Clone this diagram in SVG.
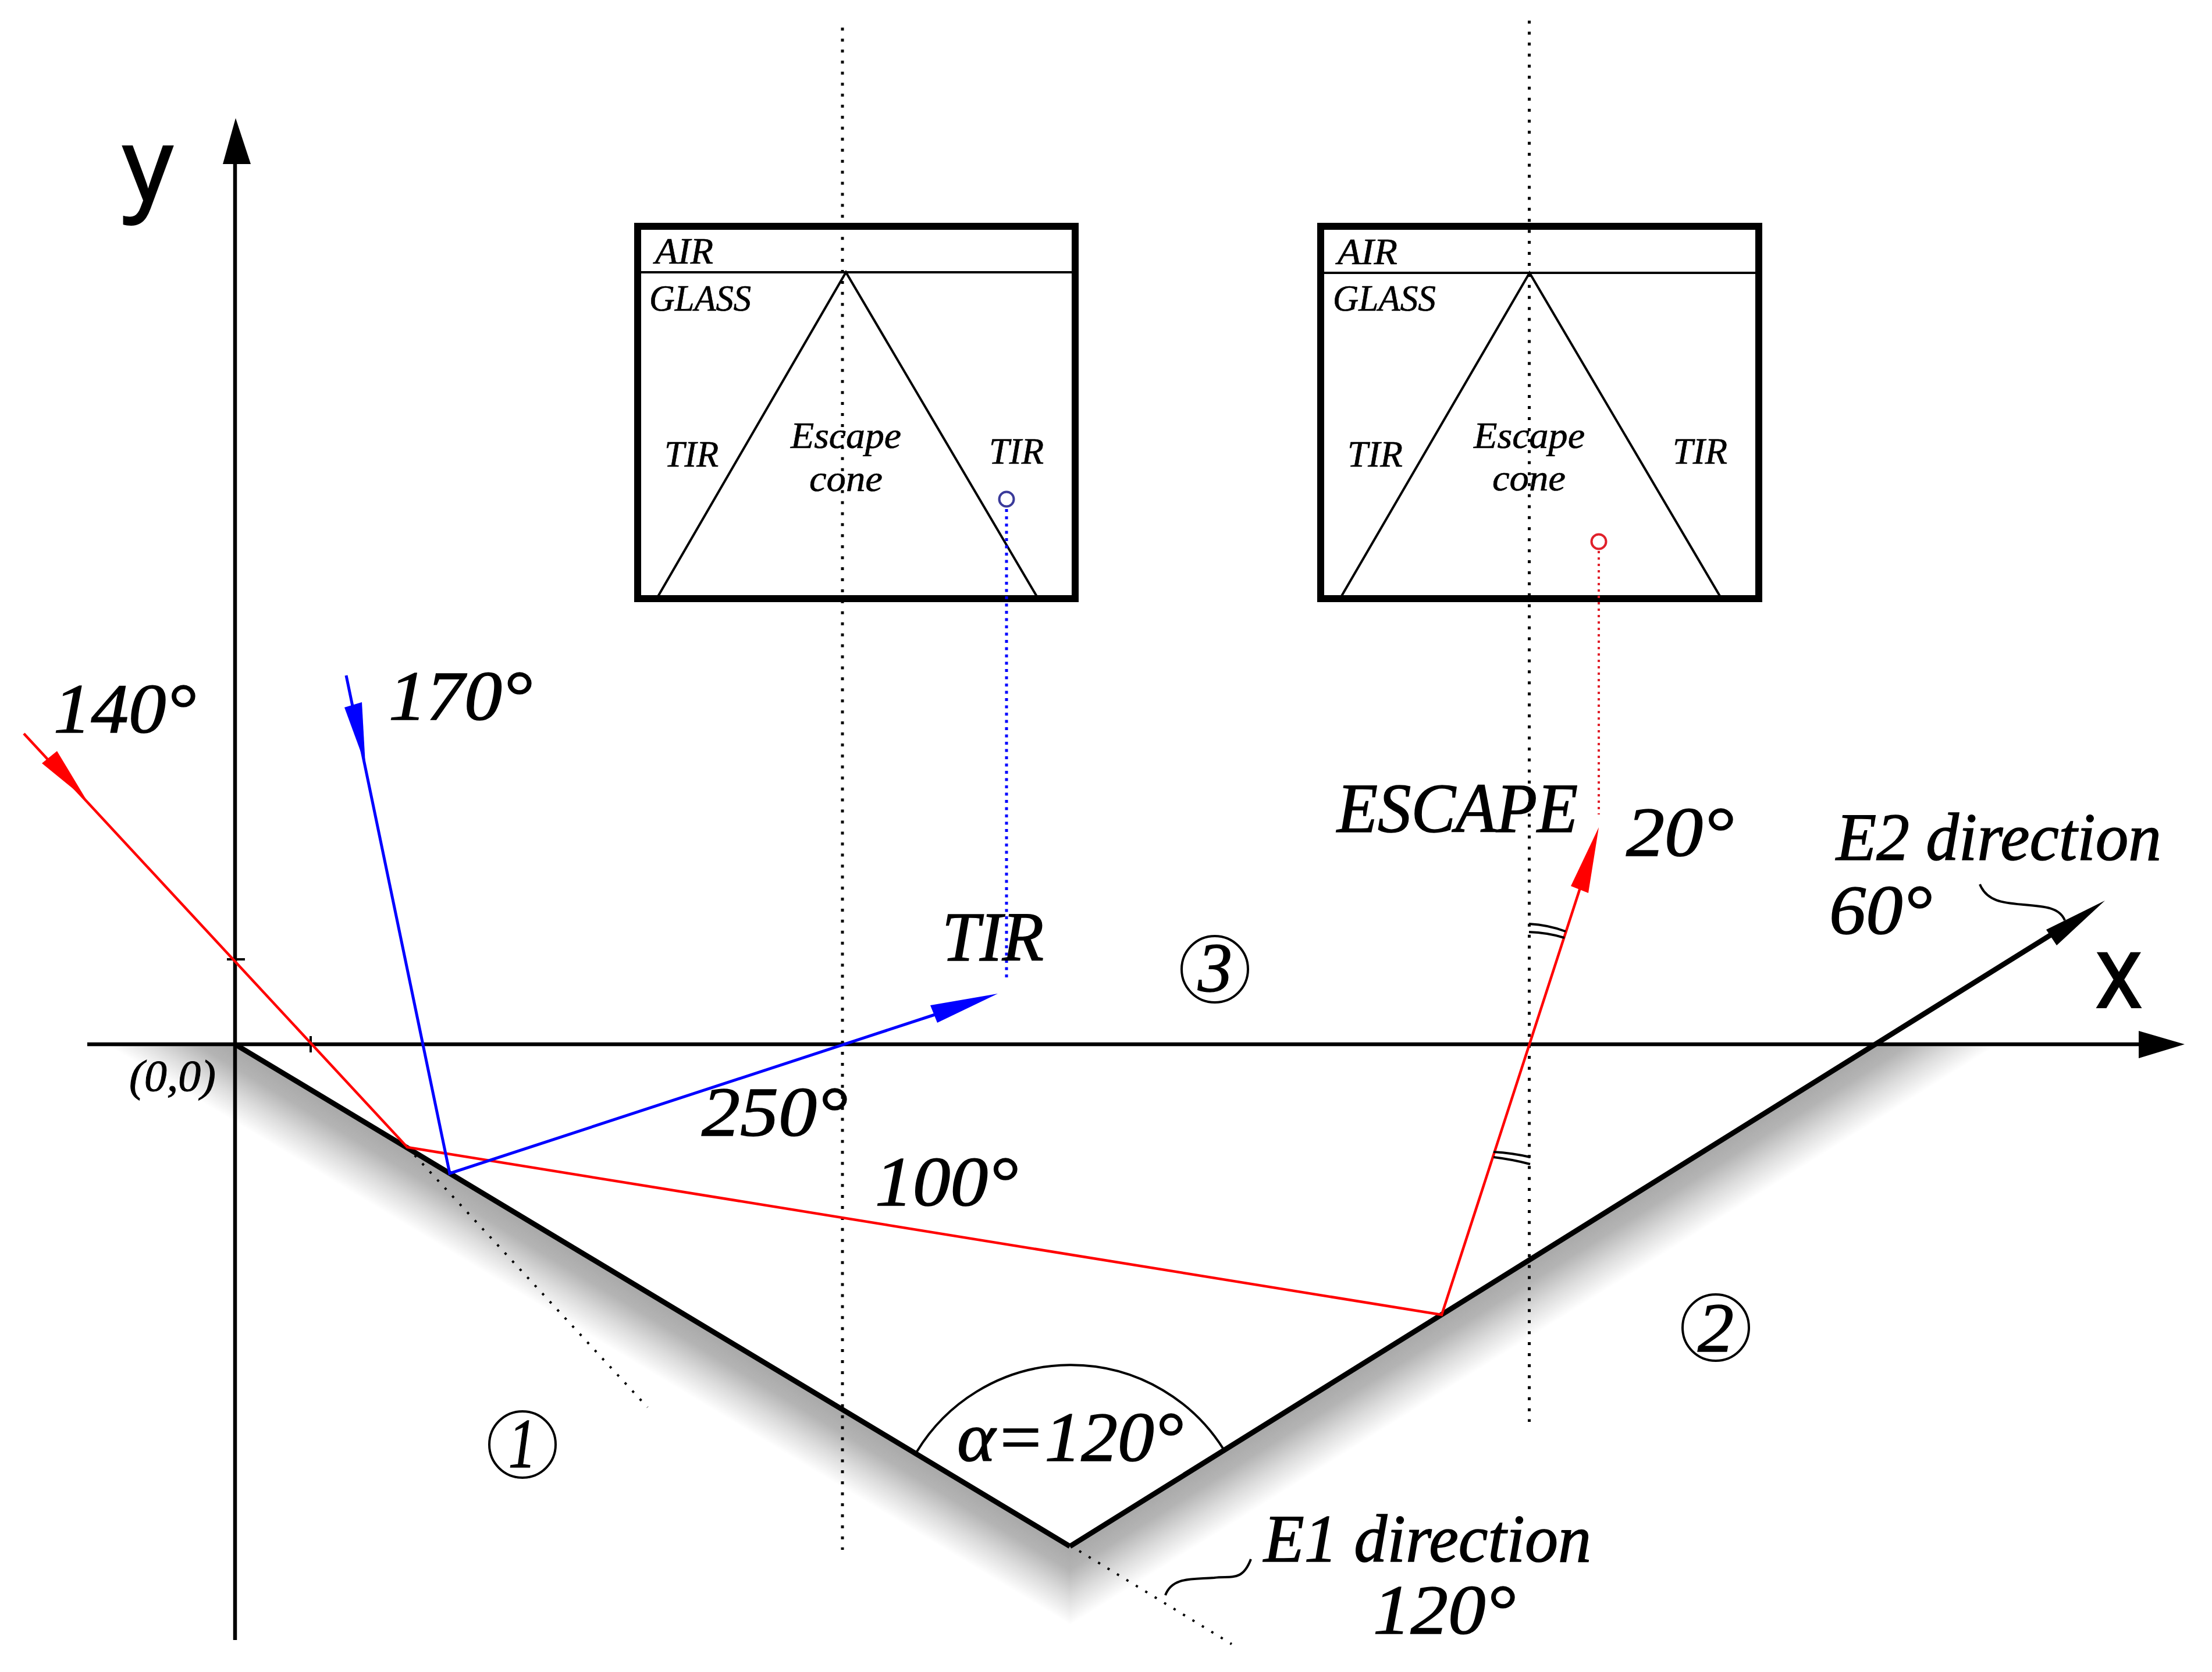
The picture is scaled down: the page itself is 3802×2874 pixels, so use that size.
<svg xmlns="http://www.w3.org/2000/svg" width="3802" height="2874" viewBox="0 0 3802 2874">
<style>
text{font-family:"Liberation Serif","Times New Roman",serif;font-style:italic;fill:#000;stroke:#000;stroke-width:1}
.big{font-size:120px;stroke-width:1.5}
.dir{font-size:116px;stroke-width:1.5}
.small{font-size:63px;stroke-width:.7}
.origin{font-size:76px}
.axis{font-family:"Open Sans","Noto Sans",sans-serif;font-style:normal;font-size:172px;stroke-width:4}
line,path,polyline,rect,circle,ellipse{fill:none}
.thin{stroke:#000;stroke-width:4}
.ax{stroke:#000;stroke-width:6.5}
.wall{stroke:#000;stroke-width:9}
.red{stroke:#f00;stroke-width:4.5}
.blue{stroke:#00f;stroke-width:5}
.dot{stroke:#000;stroke-width:5;stroke-dasharray:5 13.93}
.dotfine{stroke:#000;stroke-width:4;stroke-dasharray:4 15}
.frame{stroke:#000;stroke-width:12;fill:#fff}
.k{fill:#000}.r{fill:#f00}.b{fill:#00f}
</style>
<defs>
<linearGradient id="shL" gradientUnits="userSpaceOnUse" x1="404" y1="1795" x2="345" y2="1893"><stop offset="0" stop-color="#a8a8a8"/><stop offset=".3" stop-color="#b4b4b4"/><stop offset=".65" stop-color="#dcdcdc"/><stop offset="1" stop-color="#fff"/></linearGradient>
<linearGradient id="shR" gradientUnits="userSpaceOnUse" x1="1839" y1="2658" x2="1900" y2="2755.5"><stop offset="0" stop-color="#a8a8a8"/><stop offset=".3" stop-color="#b4b4b4"/><stop offset=".65" stop-color="#dcdcdc"/><stop offset="1" stop-color="#fff"/></linearGradient>
</defs>
<rect width="3802" height="2874" style="fill:#fff"/>
<g id="shadow">
<polygon points="404,1795 1839,2658 1839,2795 182,1795" fill="url(#shL)"/>
<polygon points="1839,2658 3222,1795 3439,1795 1839,2795" fill="url(#shR)"/>
</g>
<g id="inset-tir">
<rect class="frame" x="1096" y="389" width="752" height="640"/>
<line class="thin" x1="1096" y1="468" x2="1848" y2="468"/>
<polyline class="thin" points="1131,1025 1454,468 1782,1025"/>
<text class="small" x="1126" y="453" textLength="100" lengthAdjust="spacingAndGlyphs">AIR</text>
<text class="small" x="1116" y="534" textLength="175" lengthAdjust="spacingAndGlyphs">GLASS</text>
<text class="small" x="1142" y="802" textLength="93" lengthAdjust="spacingAndGlyphs">TIR</text>
<text class="small" x="1359" y="770" textLength="190" lengthAdjust="spacingAndGlyphs">Escape</text>
<text class="small" x="1391" y="844" textLength="126" lengthAdjust="spacingAndGlyphs">cone</text>
<text class="small" x="1700" y="797" textLength="94" lengthAdjust="spacingAndGlyphs">TIR</text>
<circle cx="1730" cy="858" r="12.5" style="stroke:#3a3a9a;stroke-width:4"/>
</g>
<g id="inset-escape">
<rect class="frame" x="2270" y="389" width="753" height="640"/>
<line class="thin" x1="2270" y1="469" x2="3023" y2="469"/>
<polyline class="thin" points="2305,1026 2629,469 2957,1026"/>
<text class="small" x="2299" y="454" textLength="103" lengthAdjust="spacingAndGlyphs">AIR</text>
<text class="small" x="2291" y="534" textLength="177" lengthAdjust="spacingAndGlyphs">GLASS</text>
<text class="small" x="2316" y="802" textLength="95" lengthAdjust="spacingAndGlyphs">TIR</text>
<text class="small" x="2533" y="770" textLength="191" lengthAdjust="spacingAndGlyphs">Escape</text>
<text class="small" x="2565" y="843" textLength="126" lengthAdjust="spacingAndGlyphs">cone</text>
<text class="small" x="2875" y="797" textLength="94" lengthAdjust="spacingAndGlyphs">TIR</text>
<circle cx="2748" cy="931" r="12.5" style="stroke:#e0202a;stroke-width:4"/>
</g>
<g id="connectors">
<line class="dot" x1="1448" y1="47.5" x2="1448" y2="2664"/>
<line class="dot" x1="2628.5" y1="35.5" x2="2628.5" y2="2444"/>
<line class="dotfine" x1="700" y1="1972" x2="1113" y2="2419"/>
<line class="dotfine" x1="1855" y1="2666" x2="2117" y2="2826"/>
<line x1="1730" y1="875" x2="1730" y2="1685" style="stroke:#00f;stroke-width:5;stroke-dasharray:5 7.5"/>
<line x1="2748" y1="947" x2="2748" y2="1400" style="stroke:#e0202a;stroke-width:4;stroke-dasharray:4 7"/>
<line class="ax" x1="404" y1="2819" x2="404" y2="280"/>
<polygon class="k" points="405,203 431,282 383,282"/>
<line class="ax" x1="150" y1="1795" x2="3680" y2="1795"/>
<polygon class="k" points="3755,1795 3676,1772 3676,1819"/>
<line class="thin" x1="390" y1="1649" x2="421" y2="1649"/>
<line class="thin" x1="534" y1="1781" x2="534" y2="1809"/>
<line class="wall" x1="404" y1="1795" x2="1839" y2="2658"/>
<line class="wall" x1="1839" y1="2658" x2="3528" y2="1605"/>
<polygon class="k" points="3618,1548 3535,1625 3517,1598"/>
<path class="thin" d="M1576,2495A310,310 0 0 1 2103,2491"/>
<polyline class="red" points="41,1261 700,1972 2478,2260 2718,1520"/>
<polygon class="r" points="148,1374 72,1312 98,1291"/>
<polygon class="r" points="2748,1422 2730,1535 2700,1523"/>
<polyline class="blue" points="595,1161 773,2017 1610,1743"/>
<polygon class="b" points="628,1314 592,1216 622,1207"/>
<polygon class="b" points="1715,1708 1599,1728 1611,1758"/>
<path class="thin" d="M2628,1588Q2662,1590 2691,1601M2628,1602Q2660,1603 2689,1612"/>
<path class="thin" d="M2567,1980Q2600,1982 2630,1989M2567,1989Q2600,1993 2630,2001"/>
<path class="thin" d="M2150,2680C2135,2720 2115,2708 2087,2712C2050,2715 2015,2710 2003,2742"/>
<path class="thin" d="M3403,1520C3415,1550 3445,1552 3478,1555C3515,1558 3540,1560 3549,1582"/>
</g>
<g id="labels">
<text class="axis" x="212" y="345" textLength="84" lengthAdjust="spacingAndGlyphs">y</text>
<text class="axis" x="3603" y="1731" textLength="78" lengthAdjust="spacingAndGlyphs">x</text>
<text class="origin" x="222" y="1875" textLength="149" lengthAdjust="spacingAndGlyphs">(0,0)</text>
<text class="big" x="92" y="1259" textLength="245" lengthAdjust="spacingAndGlyphs">140°</text>
<text class="big" x="668" y="1237" textLength="247" lengthAdjust="spacingAndGlyphs">170°</text>
<text class="big" x="1619" y="1651" textLength="175" lengthAdjust="spacingAndGlyphs">TIR</text>
<text class="big" x="1206" y="1952" textLength="251" lengthAdjust="spacingAndGlyphs">250°</text>
<text class="big" x="1504" y="2072" textLength="246" lengthAdjust="spacingAndGlyphs">100°</text>
<text class="big" x="2298" y="1430" textLength="414" lengthAdjust="spacingAndGlyphs">ESCAPE</text>
<text class="big" x="2795" y="1471" textLength="185" lengthAdjust="spacingAndGlyphs">20°</text>
<text class="dir" x="3156" y="1478" textLength="559" lengthAdjust="spacingAndGlyphs">E2 direction</text>
<text class="big" x="3144" y="1605" textLength="177" lengthAdjust="spacingAndGlyphs">60°</text>
<text class="big" x="1645" y="2511" textLength="389" lengthAdjust="spacingAndGlyphs">α=120°</text>
<text class="dir" x="2172" y="2684" textLength="563" lengthAdjust="spacingAndGlyphs">E1 direction</text>
<text class="big" x="2360" y="2808" textLength="245" lengthAdjust="spacingAndGlyphs">120°</text>
</g>
<g id="region-1"><circle class="thin" cx="898" cy="2483" r="57"/><text class="big" x="874" y="2522" textLength="47" lengthAdjust="spacingAndGlyphs">1</text></g>
<g id="region-2"><circle class="thin" cx="2949" cy="2282" r="57"/><text class="big" x="2918" y="2323" textLength="62" lengthAdjust="spacingAndGlyphs">2</text></g>
<g id="region-3"><circle class="thin" cx="2088" cy="1666" r="57"/><text class="big" x="2059" y="1704" textLength="59" lengthAdjust="spacingAndGlyphs">3</text></g>
</svg>
